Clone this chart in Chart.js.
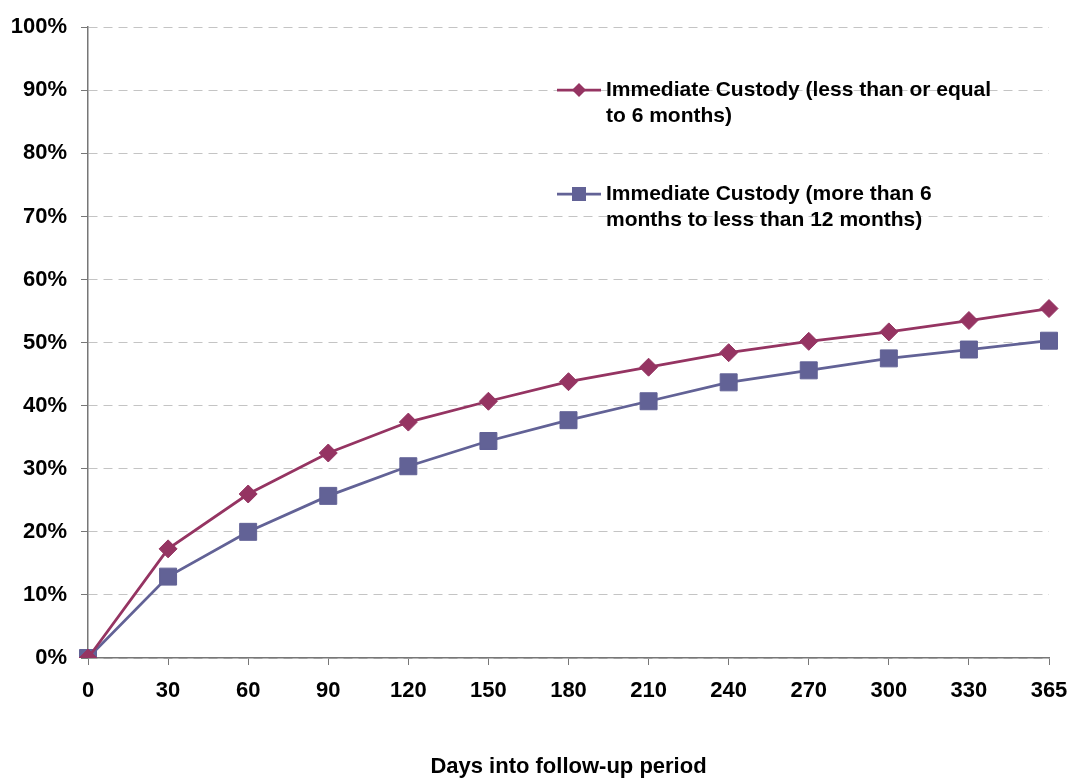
<!DOCTYPE html>
<html>
<head>
<meta charset="utf-8">
<script src="https://cdn.jsdelivr.net/npm/chart.js@4.4.1/dist/chart.umd.min.js"></script>
<style>
  html, body { margin: 0; padding: 0; background: #fff; }
  #wrap { width: 1072px; height: 778px; }
</style>
</head>
<body>
<div id="wrap"><canvas id="lineChart"></canvas></div>
<script>
const days = ['0', '30', '60', '90', '120', '150', '180', '210', '240', '270', '300', '330', '365'];
const upTo6 = [0, 17.3, 26.0, 32.5, 37.4, 40.7, 43.8, 46.1, 48.4, 50.2, 51.7, 53.5, 55.4];
const sixTo12 = [0, 12.9, 20.0, 25.7, 30.4, 34.4, 37.7, 40.7, 43.7, 45.6, 47.5, 48.9, 50.3];
const labelUpTo6 = ['Immediate Custody (less than or equal', 'to 6 months)'];
const labelSixTo12 = ['Immediate Custody (more than 6', 'months to less than 12 months)'];

const FONT = '"Liberation Sans", Arial, sans-serif';
const RED = '#953462';
const BLUE = '#626296';

// legend sits inside the plot, top right, with wrapped labels
const insideLegend = {
    id: 'insideLegend',
    afterDraw: function(chart) {
        const ctx = chart.ctx;
        const rows = [
            { y: 90, shape: 'diamond' },
            { y: 194, shape: 'square' }
        ];
        ctx.save();
        chart.data.datasets.forEach((ds, i) => {
            const r = rows[i];
            ctx.strokeStyle = ds.borderColor;
            ctx.lineWidth = 2.75;
            ctx.beginPath();
            ctx.moveTo(557, r.y);
            ctx.lineTo(601, r.y);
            ctx.stroke();
            ctx.fillStyle = ds.borderColor;
            ctx.beginPath();
            if (r.shape === 'diamond') {
                ctx.moveTo(579, r.y - 7);
                ctx.lineTo(586, r.y);
                ctx.lineTo(579, r.y + 7);
                ctx.lineTo(572, r.y);
                ctx.closePath();
            } else {
                ctx.rect(572, r.y - 7, 14, 14);
            }
            ctx.fill();
            ctx.fillStyle = '#000';
            ctx.font = 'bold 21px ' + FONT;
            ctx.textBaseline = 'middle';
            ctx.textAlign = 'left';
            ds.label.forEach((line, j) => ctx.fillText(line, 606, r.y + j * 26));
        });
        ctx.restore();
    }
};

new Chart(document.getElementById('lineChart'), {
    type: 'line',
    data: {
        labels: days,
        datasets: [{
            label: labelUpTo6,
            data: upTo6,
            borderColor: RED,
            backgroundColor: RED,
            borderWidth: 2.75,
            pointStyle: 'rectRot',
            pointRadius: 9,
            pointBorderWidth: 1,
            tension: 0
        }, {
            label: labelSixTo12,
            data: sixTo12,
            borderColor: BLUE,
            backgroundColor: BLUE,
            borderWidth: 2.75,
            pointStyle: 'rect',
            pointRadius: 12,
            pointBorderWidth: 1,
            tension: 0
        }]
    },
    plugins: [insideLegend],
    options: {
        responsive: true,
        maintainAspectRatio: false,
        animation: false,
        layout: { padding: { top: 24, right: 23, left: 0, bottom: 0 } },
        plugins: {
            legend: { display: false },
            tooltip: { enabled: false }
        },
        scales: {
            x: {
                offset: false,
                afterFit: function(scale) {
                    scale.height = 120;
                    scale.paddingLeft = 0;
                    scale.paddingRight = 0;
                },
                grid: {
                    drawOnChartArea: false,
                    tickLength: 7,
                    tickColor: '#777'
                },
                border: { color: '#777', width: 1.5 },
                ticks: {
                    color: '#000',
                    font: { family: FONT, size: 22, weight: 'bold' },
                    padding: 13,
                    maxRotation: 0,
                    autoSkip: false
                },
                title: {
                    display: true,
                    text: 'Days into follow-up period',
                    color: '#000',
                    font: { family: FONT, size: 22, weight: 'bold', lineHeight: 1 },
                    padding: { top: 0, bottom: 0 }
                }
            },
            y: {
                min: 0,
                max: 100,
                afterFit: function(scale) { scale.width = 88; },
                grid: {
                    color: '#c4c4c4',
                    tickColor: '#777',
                    tickLength: 7,
                    tickBorderDash: []
                },
                border: { color: '#777', width: 1.5, dash: [9, 6] },
                ticks: {
                    stepSize: 10,
                    color: '#000',
                    padding: 14,
                    font: { family: FONT, size: 22, weight: 'bold' },
                    callback: function(v) { return v + '%'; }
                }
            }
        }
    }
});
</script>
</body>
</html>
